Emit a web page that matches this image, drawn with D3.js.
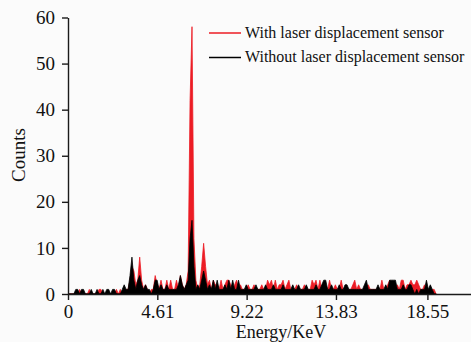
<!DOCTYPE html>
<html>
<head>
<meta charset="utf-8">
<script src="https://cdn.jsdelivr.net/npm/d3@7"></script>
<style>
  html, body { margin: 0; padding: 0; background: #fbfbfb; }
  svg { display: block; }
</style>
</head>
<body>
<svg id="chart" width="471" height="342"></svg>
<script>
// X-ray fluorescence spectra, counts per 0.1 keV channel starting at 0 keV
const xTickValues = [0, 4.61, 9.22, 13.83, 18.55];
const xTickLabels = ["0", "4.61", "9.22", "13.83", "18.55"];
const yTickValues = [0, 10, 20, 30, 40, 50, 60];
const seriesNames = ["With laser displacement sensor", "Without laser displacement sensor"];
const seriesColors = ["#ec1c24", "#000000"];
const channelWidth = 0.1; // keV

const countsWithSensor = [
  0,0,0,0,0,0,1,0,0,0,
  0,1,0,0,0,0,1,1,0,0,
  0,0,0,0,0,1,0,1,0,1,
  1,1,3,6,5,2,3,8,3,1,
  2,1,0,1,1,4,2,1,3,1,
  1,3,1,3,1,1,3,1,4,2,
  1,2,5,42,58,12,3,1,2,6,
  11,6,2,3,1,3,2,2,1,3,
  1,2,3,3,2,1,2,3,1,2,
  1,1,1,2,1,1,2,1,1,1,
  2,1,1,3,2,3,1,3,1,2,
  2,3,1,2,3,1,1,1,2,1,
  1,1,2,1,1,1,3,2,3,1,
  3,1,1,2,1,3,1,1,2,1,
  1,3,1,1,1,1,1,2,3,1,
  2,1,1,1,1,2,1,1,1,1,
  1,1,3,1,1,2,3,2,2,1,
  2,1,3,3,1,2,2,3,2,2,
  3,2,1,1,2,1,1,1,1,1,
  0
];

const countsWithoutSensor = [
  0,0,0,0,1,1,0,1,1,0,
  0,0,1,0,0,1,0,0,1,0,
  1,1,0,1,1,0,0,0,1,2,
  1,1,4,8,3,1,3,4,2,1,
  2,1,1,0,1,3,3,1,2,1,
  1,2,1,1,1,1,1,2,4,2,
  1,2,3,12,16,6,1,2,1,3,
  5,3,1,2,1,3,1,3,1,1,
  1,2,1,3,1,3,1,1,3,1,
  1,1,2,1,1,1,1,2,1,1,
  1,1,2,1,1,1,2,1,1,1,
  1,2,1,1,1,1,2,1,1,2,
  1,1,1,2,1,1,1,1,2,1,
  1,2,3,3,1,1,2,1,1,1,
  2,1,1,2,2,1,1,1,1,1,
  1,1,1,2,3,1,1,1,1,1,
  2,1,1,1,2,1,3,3,3,3,
  1,1,1,2,1,1,2,2,1,0,
  1,0,1,1,1,3,1,2,1,0,
  0
];

const svg = d3.select("#chart");
const fontFamily = "'Liberation Serif', 'Times New Roman', serif";

const x = d3.scaleLinear().domain([0, 20.8]).range([68, 471]);
const y = d3.scaleLinear().domain([0, 60]).range([294, 17.5]);

const toPoints = arr => arr.map((v, i) => ({ e: i * channelWidth, v }));

const area = d3.area()
  .x(d => x(d.e))
  .y0(y(0))
  .y1(d => y(d.v));

const plot = svg.append("g");
[countsWithSensor, countsWithoutSensor].forEach((arr, k) => {
  plot.append("path")
    .datum(toPoints(arr))
    .attr("d", area)
    .attr("fill", seriesColors[k])
    .attr("stroke", seriesColors[k])
    .attr("stroke-width", 0.8)
    .attr("stroke-linejoin", "miter");
});

// Axes
const axisColor = "#1a1a1a";
const yAxis = svg.append("g")
  .attr("transform", `translate(${x(0)},0)`)
  .call(d3.axisLeft(y).tickValues(yTickValues).tickSize(6).tickSizeOuter(0).tickPadding(7));

const xAxis = svg.append("g")
  .attr("transform", `translate(0,${y(0)})`)
  .call(d3.axisBottom(x).tickValues(xTickValues)
    .tickFormat((d, i) => xTickLabels[i])
    .tickSize(6).tickSizeOuter(0).tickPadding(5));

[yAxis, xAxis].forEach(g => {
  g.selectAll("path, line").attr("stroke", axisColor).attr("stroke-width", 1.4);
  g.selectAll("text")
    .attr("fill", "#111")
    .style("font-family", fontFamily)
    .style("font-size", "19px");
});

// Axis titles
svg.append("text")
  .attr("transform", "translate(25,155) rotate(-90)")
  .attr("text-anchor", "middle")
  .style("font-family", fontFamily)
  .style("font-size", "19px")
  .attr("fill", "#111")
  .text("Counts");

svg.append("text")
  .attr("x", 281)
  .attr("y", 338)
  .attr("text-anchor", "middle")
  .style("font-family", fontFamily)
  .style("font-size", "18px")
  .attr("fill", "#111")
  .text("Energy/KeV");

// Legend
const legend = svg.append("g").attr("transform", "translate(209,33)");
seriesNames.forEach((name, i) => {
  const row = legend.append("g").attr("transform", `translate(0,${i * 24.5})`);
  row.append("line")
    .attr("x1", 0).attr("x2", 32)
    .attr("y1", 0).attr("y2", 0)
    .attr("stroke", seriesColors[i])
    .attr("stroke-width", 1.5);
  row.append("text")
    .attr("x", 36)
    .attr("y", 4.5)
    .style("font-family", fontFamily)
    .style("font-size", "16px")
    .attr("fill", "#111")
    .text(name);
});
</script>
</body>
</html>
